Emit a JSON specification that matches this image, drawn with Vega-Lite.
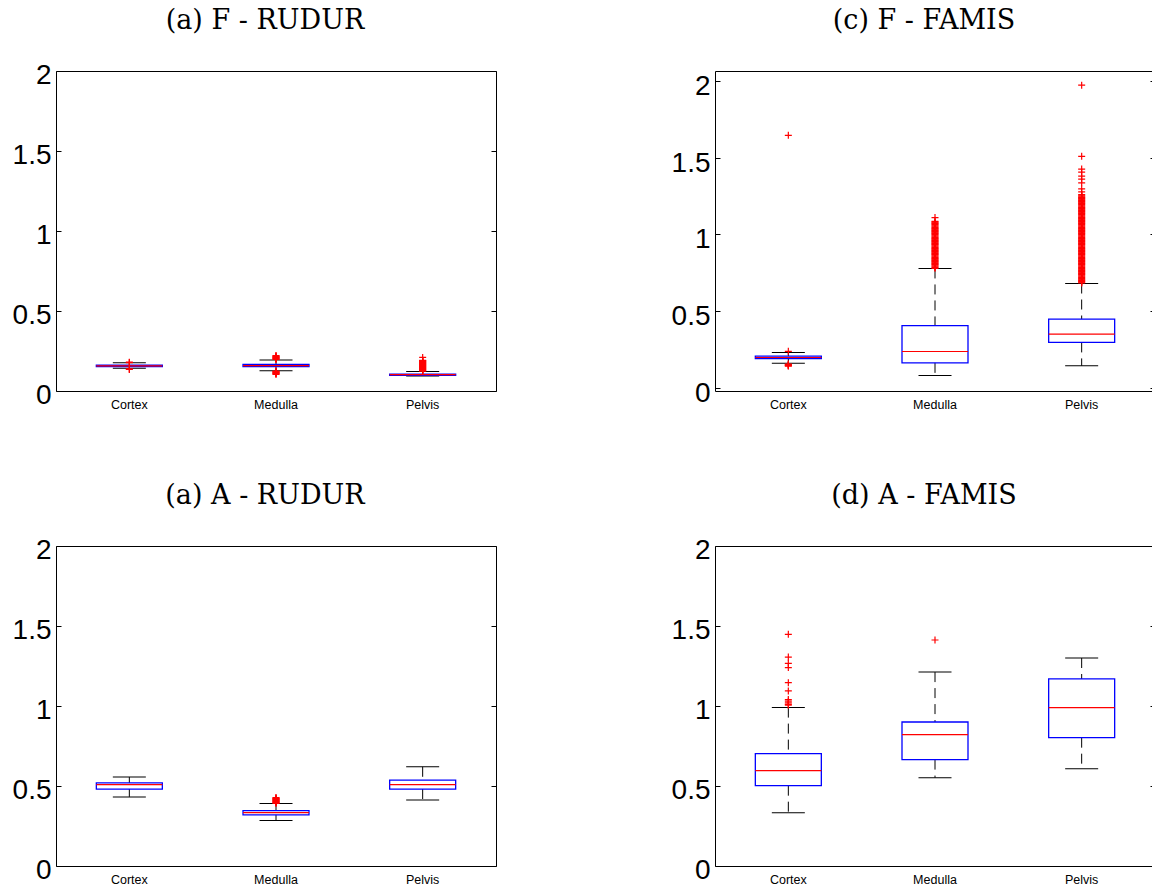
{
  "$schema": "https://vega.github.io/schema/vega-lite/v6.json",
  "background": "white",
  "padding": {"left": 11, "top": 6, "right": 0, "bottom": 0},
  "bounds": "flush",
  "columns": 2,
  "spacing": {"row": 155, "column": 219},
  "datasets": {
    "stats": [
      {"panel": "FR", "region": "Cortex", "lo": 0.142, "q1": 0.153, "med": 0.157, "q3": 0.161, "hi": 0.176},
      {"panel": "FR", "region": "Medulla", "lo": 0.127, "q1": 0.152, "med": 0.158, "q3": 0.166, "hi": 0.194},
      {"panel": "FR", "region": "Pelvis", "lo": 0.094, "q1": 0.098, "med": 0.102, "q3": 0.106, "hi": 0.122},
      {"panel": "FF", "region": "Cortex", "lo": 0.162, "q1": 0.193, "med": 0.2, "q3": 0.209, "hi": 0.232},
      {"panel": "FF", "region": "Medulla", "lo": 0.082, "q1": 0.165, "med": 0.239, "q3": 0.407, "hi": 0.779},
      {"panel": "FF", "region": "Pelvis", "lo": 0.146, "q1": 0.298, "med": 0.352, "q3": 0.45, "hi": 0.681},
      {"panel": "AR", "region": "Cortex", "lo": 0.432, "q1": 0.481, "med": 0.508, "q3": 0.519, "hi": 0.556},
      {"panel": "AR", "region": "Medulla", "lo": 0.284, "q1": 0.32, "med": 0.334, "q3": 0.346, "hi": 0.39},
      {"panel": "AR", "region": "Pelvis", "lo": 0.413, "q1": 0.481, "med": 0.508, "q3": 0.537, "hi": 0.62},
      {"panel": "AF", "region": "Cortex", "lo": 0.333, "q1": 0.502, "med": 0.596, "q3": 0.702, "hi": 0.99},
      {"panel": "AF", "region": "Medulla", "lo": 0.552, "q1": 0.665, "med": 0.821, "q3": 0.9, "hi": 1.212},
      {"panel": "AF", "region": "Pelvis", "lo": 0.608, "q1": 0.802, "med": 0.99, "q3": 1.169, "hi": 1.3}
    ],
    "outliers": [
      {"panel": "FR", "region": "Cortex", "value": 0.18}, {"panel": "FR", "region": "Cortex", "value": 0.177},
      {"panel": "FR", "region": "Cortex", "value": 0.138}, {"panel": "FR", "region": "Cortex", "value": 0.135},
      {"panel": "FR", "region": "Medulla", "value": 0.197}, {"panel": "FR", "region": "Medulla", "value": 0.2},
      {"panel": "FR", "region": "Medulla", "value": 0.203}, {"panel": "FR", "region": "Medulla", "value": 0.206},
      {"panel": "FR", "region": "Medulla", "value": 0.209}, {"panel": "FR", "region": "Medulla", "value": 0.212},
      {"panel": "FR", "region": "Medulla", "value": 0.215}, {"panel": "FR", "region": "Medulla", "value": 0.218},
      {"panel": "FR", "region": "Medulla", "value": 0.222}, {"panel": "FR", "region": "Medulla", "value": 0.125},
      {"panel": "FR", "region": "Medulla", "value": 0.122}, {"panel": "FR", "region": "Medulla", "value": 0.119},
      {"panel": "FR", "region": "Medulla", "value": 0.116}, {"panel": "FR", "region": "Medulla", "value": 0.113},
      {"panel": "FR", "region": "Medulla", "value": 0.11}, {"panel": "FR", "region": "Medulla", "value": 0.107},
      {"panel": "FR", "region": "Medulla", "value": 0.104},
      {"panel": "FR", "region": "Pelvis", "value": 0.124}, {"panel": "FR", "region": "Pelvis", "value": 0.127},
      {"panel": "FR", "region": "Pelvis", "value": 0.13}, {"panel": "FR", "region": "Pelvis", "value": 0.133},
      {"panel": "FR", "region": "Pelvis", "value": 0.136}, {"panel": "FR", "region": "Pelvis", "value": 0.139},
      {"panel": "FR", "region": "Pelvis", "value": 0.142}, {"panel": "FR", "region": "Pelvis", "value": 0.145},
      {"panel": "FR", "region": "Pelvis", "value": 0.148}, {"panel": "FR", "region": "Pelvis", "value": 0.151},
      {"panel": "FR", "region": "Pelvis", "value": 0.154}, {"panel": "FR", "region": "Pelvis", "value": 0.157},
      {"panel": "FR", "region": "Pelvis", "value": 0.16}, {"panel": "FR", "region": "Pelvis", "value": 0.163},
      {"panel": "FR", "region": "Pelvis", "value": 0.166}, {"panel": "FR", "region": "Pelvis", "value": 0.169},
      {"panel": "FR", "region": "Pelvis", "value": 0.172}, {"panel": "FR", "region": "Pelvis", "value": 0.175},
      {"panel": "FR", "region": "Pelvis", "value": 0.178}, {"panel": "FR", "region": "Pelvis", "value": 0.181},
      {"panel": "FR", "region": "Pelvis", "value": 0.184}, {"panel": "FR", "region": "Pelvis", "value": 0.187},
      {"panel": "FR", "region": "Pelvis", "value": 0.19}, {"panel": "FR", "region": "Pelvis", "value": 0.192},
      {"panel": "FR", "region": "Pelvis", "value": 0.21},
      {"panel": "FF", "region": "Cortex", "value": 0.24}, {"panel": "FF", "region": "Cortex", "value": 0.157},
      {"panel": "FF", "region": "Cortex", "value": 0.153}, {"panel": "FF", "region": "Cortex", "value": 0.15},
      {"panel": "FF", "region": "Cortex", "value": 0.147}, {"panel": "FF", "region": "Cortex", "value": 0.144},
      {"panel": "FF", "region": "Cortex", "value": 1.645},
      {"panel": "FF", "region": "Medulla", "value": 0.78}, {"panel": "FF", "region": "Medulla", "value": 0.785},
      {"panel": "FF", "region": "Medulla", "value": 0.79}, {"panel": "FF", "region": "Medulla", "value": 0.795},
      {"panel": "FF", "region": "Medulla", "value": 0.8}, {"panel": "FF", "region": "Medulla", "value": 0.805},
      {"panel": "FF", "region": "Medulla", "value": 0.81}, {"panel": "FF", "region": "Medulla", "value": 0.815},
      {"panel": "FF", "region": "Medulla", "value": 0.82}, {"panel": "FF", "region": "Medulla", "value": 0.825},
      {"panel": "FF", "region": "Medulla", "value": 0.83}, {"panel": "FF", "region": "Medulla", "value": 0.835},
      {"panel": "FF", "region": "Medulla", "value": 0.84}, {"panel": "FF", "region": "Medulla", "value": 0.845},
      {"panel": "FF", "region": "Medulla", "value": 0.85}, {"panel": "FF", "region": "Medulla", "value": 0.855},
      {"panel": "FF", "region": "Medulla", "value": 0.86}, {"panel": "FF", "region": "Medulla", "value": 0.865},
      {"panel": "FF", "region": "Medulla", "value": 0.87}, {"panel": "FF", "region": "Medulla", "value": 0.875},
      {"panel": "FF", "region": "Medulla", "value": 0.88}, {"panel": "FF", "region": "Medulla", "value": 0.885},
      {"panel": "FF", "region": "Medulla", "value": 0.89}, {"panel": "FF", "region": "Medulla", "value": 0.895},
      {"panel": "FF", "region": "Medulla", "value": 0.9}, {"panel": "FF", "region": "Medulla", "value": 0.905},
      {"panel": "FF", "region": "Medulla", "value": 0.91}, {"panel": "FF", "region": "Medulla", "value": 0.915},
      {"panel": "FF", "region": "Medulla", "value": 0.92}, {"panel": "FF", "region": "Medulla", "value": 0.925},
      {"panel": "FF", "region": "Medulla", "value": 0.93}, {"panel": "FF", "region": "Medulla", "value": 0.935},
      {"panel": "FF", "region": "Medulla", "value": 0.94}, {"panel": "FF", "region": "Medulla", "value": 0.945},
      {"panel": "FF", "region": "Medulla", "value": 0.95}, {"panel": "FF", "region": "Medulla", "value": 0.955},
      {"panel": "FF", "region": "Medulla", "value": 0.96}, {"panel": "FF", "region": "Medulla", "value": 0.965},
      {"panel": "FF", "region": "Medulla", "value": 0.97}, {"panel": "FF", "region": "Medulla", "value": 0.975},
      {"panel": "FF", "region": "Medulla", "value": 0.98}, {"panel": "FF", "region": "Medulla", "value": 0.985},
      {"panel": "FF", "region": "Medulla", "value": 0.99}, {"panel": "FF", "region": "Medulla", "value": 0.995},
      {"panel": "FF", "region": "Medulla", "value": 1.0}, {"panel": "FF", "region": "Medulla", "value": 1.005},
      {"panel": "FF", "region": "Medulla", "value": 1.01}, {"panel": "FF", "region": "Medulla", "value": 1.015},
      {"panel": "FF", "region": "Medulla", "value": 1.02}, {"panel": "FF", "region": "Medulla", "value": 1.025},
      {"panel": "FF", "region": "Medulla", "value": 1.03}, {"panel": "FF", "region": "Medulla", "value": 1.035},
      {"panel": "FF", "region": "Medulla", "value": 1.04}, {"panel": "FF", "region": "Medulla", "value": 1.045},
      {"panel": "FF", "region": "Medulla", "value": 1.05}, {"panel": "FF", "region": "Medulla", "value": 1.055},
      {"panel": "FF", "region": "Medulla", "value": 1.06}, {"panel": "FF", "region": "Medulla", "value": 1.065},
      {"panel": "FF", "region": "Medulla", "value": 1.07}, {"panel": "FF", "region": "Medulla", "value": 1.075},
      {"panel": "FF", "region": "Medulla", "value": 1.08}, {"panel": "FF", "region": "Medulla", "value": 1.085},
      {"panel": "FF", "region": "Medulla", "value": 1.11},
      {"panel": "FF", "region": "Pelvis", "value": 0.685}, {"panel": "FF", "region": "Pelvis", "value": 0.69},
      {"panel": "FF", "region": "Pelvis", "value": 0.695}, {"panel": "FF", "region": "Pelvis", "value": 0.7},
      {"panel": "FF", "region": "Pelvis", "value": 0.705}, {"panel": "FF", "region": "Pelvis", "value": 0.71},
      {"panel": "FF", "region": "Pelvis", "value": 0.715}, {"panel": "FF", "region": "Pelvis", "value": 0.72},
      {"panel": "FF", "region": "Pelvis", "value": 0.725}, {"panel": "FF", "region": "Pelvis", "value": 0.73},
      {"panel": "FF", "region": "Pelvis", "value": 0.735}, {"panel": "FF", "region": "Pelvis", "value": 0.74},
      {"panel": "FF", "region": "Pelvis", "value": 0.745}, {"panel": "FF", "region": "Pelvis", "value": 0.75},
      {"panel": "FF", "region": "Pelvis", "value": 0.755}, {"panel": "FF", "region": "Pelvis", "value": 0.76},
      {"panel": "FF", "region": "Pelvis", "value": 0.765}, {"panel": "FF", "region": "Pelvis", "value": 0.77},
      {"panel": "FF", "region": "Pelvis", "value": 0.775}, {"panel": "FF", "region": "Pelvis", "value": 0.78},
      {"panel": "FF", "region": "Pelvis", "value": 0.785}, {"panel": "FF", "region": "Pelvis", "value": 0.79},
      {"panel": "FF", "region": "Pelvis", "value": 0.795}, {"panel": "FF", "region": "Pelvis", "value": 0.8},
      {"panel": "FF", "region": "Pelvis", "value": 0.805}, {"panel": "FF", "region": "Pelvis", "value": 0.81},
      {"panel": "FF", "region": "Pelvis", "value": 0.815}, {"panel": "FF", "region": "Pelvis", "value": 0.82},
      {"panel": "FF", "region": "Pelvis", "value": 0.825}, {"panel": "FF", "region": "Pelvis", "value": 0.83},
      {"panel": "FF", "region": "Pelvis", "value": 0.835}, {"panel": "FF", "region": "Pelvis", "value": 0.84},
      {"panel": "FF", "region": "Pelvis", "value": 0.845}, {"panel": "FF", "region": "Pelvis", "value": 0.85},
      {"panel": "FF", "region": "Pelvis", "value": 0.855}, {"panel": "FF", "region": "Pelvis", "value": 0.86},
      {"panel": "FF", "region": "Pelvis", "value": 0.865}, {"panel": "FF", "region": "Pelvis", "value": 0.87},
      {"panel": "FF", "region": "Pelvis", "value": 0.875}, {"panel": "FF", "region": "Pelvis", "value": 0.88},
      {"panel": "FF", "region": "Pelvis", "value": 0.885}, {"panel": "FF", "region": "Pelvis", "value": 0.89},
      {"panel": "FF", "region": "Pelvis", "value": 0.895}, {"panel": "FF", "region": "Pelvis", "value": 0.9},
      {"panel": "FF", "region": "Pelvis", "value": 0.905}, {"panel": "FF", "region": "Pelvis", "value": 0.91},
      {"panel": "FF", "region": "Pelvis", "value": 0.915}, {"panel": "FF", "region": "Pelvis", "value": 0.92},
      {"panel": "FF", "region": "Pelvis", "value": 0.925}, {"panel": "FF", "region": "Pelvis", "value": 0.93},
      {"panel": "FF", "region": "Pelvis", "value": 0.935}, {"panel": "FF", "region": "Pelvis", "value": 0.94},
      {"panel": "FF", "region": "Pelvis", "value": 0.945}, {"panel": "FF", "region": "Pelvis", "value": 0.95},
      {"panel": "FF", "region": "Pelvis", "value": 0.955}, {"panel": "FF", "region": "Pelvis", "value": 0.96},
      {"panel": "FF", "region": "Pelvis", "value": 0.965}, {"panel": "FF", "region": "Pelvis", "value": 0.97},
      {"panel": "FF", "region": "Pelvis", "value": 0.975}, {"panel": "FF", "region": "Pelvis", "value": 0.98},
      {"panel": "FF", "region": "Pelvis", "value": 0.985}, {"panel": "FF", "region": "Pelvis", "value": 0.99},
      {"panel": "FF", "region": "Pelvis", "value": 0.995}, {"panel": "FF", "region": "Pelvis", "value": 1.0},
      {"panel": "FF", "region": "Pelvis", "value": 1.005}, {"panel": "FF", "region": "Pelvis", "value": 1.01},
      {"panel": "FF", "region": "Pelvis", "value": 1.015}, {"panel": "FF", "region": "Pelvis", "value": 1.02},
      {"panel": "FF", "region": "Pelvis", "value": 1.025}, {"panel": "FF", "region": "Pelvis", "value": 1.03},
      {"panel": "FF", "region": "Pelvis", "value": 1.035}, {"panel": "FF", "region": "Pelvis", "value": 1.04},
      {"panel": "FF", "region": "Pelvis", "value": 1.045}, {"panel": "FF", "region": "Pelvis", "value": 1.05},
      {"panel": "FF", "region": "Pelvis", "value": 1.055}, {"panel": "FF", "region": "Pelvis", "value": 1.06},
      {"panel": "FF", "region": "Pelvis", "value": 1.065}, {"panel": "FF", "region": "Pelvis", "value": 1.07},
      {"panel": "FF", "region": "Pelvis", "value": 1.075}, {"panel": "FF", "region": "Pelvis", "value": 1.08},
      {"panel": "FF", "region": "Pelvis", "value": 1.085}, {"panel": "FF", "region": "Pelvis", "value": 1.09},
      {"panel": "FF", "region": "Pelvis", "value": 1.095}, {"panel": "FF", "region": "Pelvis", "value": 1.1},
      {"panel": "FF", "region": "Pelvis", "value": 1.105}, {"panel": "FF", "region": "Pelvis", "value": 1.11},
      {"panel": "FF", "region": "Pelvis", "value": 1.115}, {"panel": "FF", "region": "Pelvis", "value": 1.12},
      {"panel": "FF", "region": "Pelvis", "value": 1.125}, {"panel": "FF", "region": "Pelvis", "value": 1.13},
      {"panel": "FF", "region": "Pelvis", "value": 1.135}, {"panel": "FF", "region": "Pelvis", "value": 1.14},
      {"panel": "FF", "region": "Pelvis", "value": 1.145}, {"panel": "FF", "region": "Pelvis", "value": 1.15},
      {"panel": "FF", "region": "Pelvis", "value": 1.155}, {"panel": "FF", "region": "Pelvis", "value": 1.16},
      {"panel": "FF", "region": "Pelvis", "value": 1.165}, {"panel": "FF", "region": "Pelvis", "value": 1.17},
      {"panel": "FF", "region": "Pelvis", "value": 1.175}, {"panel": "FF", "region": "Pelvis", "value": 1.18},
      {"panel": "FF", "region": "Pelvis", "value": 1.185}, {"panel": "FF", "region": "Pelvis", "value": 1.19},
      {"panel": "FF", "region": "Pelvis", "value": 1.195}, {"panel": "FF", "region": "Pelvis", "value": 1.2},
      {"panel": "FF", "region": "Pelvis", "value": 1.205}, {"panel": "FF", "region": "Pelvis", "value": 1.21},
      {"panel": "FF", "region": "Pelvis", "value": 1.215}, {"panel": "FF", "region": "Pelvis", "value": 1.22},
      {"panel": "FF", "region": "Pelvis", "value": 1.225}, {"panel": "FF", "region": "Pelvis", "value": 1.23},
      {"panel": "FF", "region": "Pelvis", "value": 1.235}, {"panel": "FF", "region": "Pelvis", "value": 1.24},
      {"panel": "FF", "region": "Pelvis", "value": 1.245}, {"panel": "FF", "region": "Pelvis", "value": 1.25},
      {"panel": "FF", "region": "Pelvis", "value": 1.255}, {"panel": "FF", "region": "Pelvis", "value": 1.26},
      {"panel": "FF", "region": "Pelvis", "value": 1.277}, {"panel": "FF", "region": "Pelvis", "value": 1.296},
      {"panel": "FF", "region": "Pelvis", "value": 1.336}, {"panel": "FF", "region": "Pelvis", "value": 1.36},
      {"panel": "FF", "region": "Pelvis", "value": 1.379}, {"panel": "FF", "region": "Pelvis", "value": 1.405},
      {"panel": "FF", "region": "Pelvis", "value": 1.425}, {"panel": "FF", "region": "Pelvis", "value": 1.508},
      {"panel": "FF", "region": "Pelvis", "value": 1.971},
      {"panel": "AR", "region": "Medulla", "value": 0.392}, {"panel": "AR", "region": "Medulla", "value": 0.395},
      {"panel": "AR", "region": "Medulla", "value": 0.398}, {"panel": "AR", "region": "Medulla", "value": 0.401},
      {"panel": "AR", "region": "Medulla", "value": 0.404}, {"panel": "AR", "region": "Medulla", "value": 0.407},
      {"panel": "AR", "region": "Medulla", "value": 0.41}, {"panel": "AR", "region": "Medulla", "value": 0.413},
      {"panel": "AR", "region": "Medulla", "value": 0.416}, {"panel": "AR", "region": "Medulla", "value": 0.419},
      {"panel": "AR", "region": "Medulla", "value": 0.422}, {"panel": "AR", "region": "Medulla", "value": 0.425},
      {"panel": "AR", "region": "Medulla", "value": 0.428},
      {"panel": "AF", "region": "Cortex", "value": 1.005}, {"panel": "AF", "region": "Cortex", "value": 1.01},
      {"panel": "AF", "region": "Cortex", "value": 1.02}, {"panel": "AF", "region": "Cortex", "value": 1.03},
      {"panel": "AF", "region": "Cortex", "value": 1.04}, {"panel": "AF", "region": "Cortex", "value": 1.094},
      {"panel": "AF", "region": "Cortex", "value": 1.146}, {"panel": "AF", "region": "Cortex", "value": 1.24},
      {"panel": "AF", "region": "Cortex", "value": 1.267}, {"panel": "AF", "region": "Cortex", "value": 1.306},
      {"panel": "AF", "region": "Cortex", "value": 1.448},
      {"panel": "AF", "region": "Medulla", "value": 1.4125}
    ]
  },
  "concat": [
    {
      "width": 440, "height": 320,
      "title": {"text": "(a) F - RUDUR", "dx": -11},
      "layer": [
        {"data": {"name": "stats"}, "transform": [{"filter": "datum.panel === 'FR'"}],
         "mark": {"type": "rule", "color": "#000", "strokeDash": [10, 6], "strokeWidth": 1},
         "encoding": {
           "x": {"field": "region", "type": "nominal", "scale": {"type": "band", "domain": ["Cortex", "Medulla", "Pelvis"], "paddingInner": 0, "paddingOuter": 0}, "axis": {"title": null}},
           "y": {"field": "hi", "type": "quantitative", "scale": {"domain": [0, 2], "nice": false, "zero": false},
                 "axis": {"orient": "left", "values": [0, 0.5, 1, 1.5, 2], "format": "~g", "title": null, "labelOffset": 4.5}},
           "y2": {"field": "q3"}
         }},
        {"data": {"name": "stats"}, "transform": [{"filter": "datum.panel === 'FR'"}],
         "mark": {"type": "rule", "color": "#000", "strokeDash": [10, 6], "strokeWidth": 1},
         "encoding": {
           "x": {"field": "region", "type": "nominal", "scale": {"type": "band", "domain": ["Cortex", "Medulla", "Pelvis"], "paddingInner": 0, "paddingOuter": 0}, "axis": {"title": null}},
           "y": {"field": "q1", "type": "quantitative", "scale": {"domain": [0, 2], "nice": false, "zero": false}, "axis": null},
           "y2": {"field": "lo"}
         }},
        {"data": {"name": "stats"}, "transform": [{"filter": "datum.panel === 'FR'"}, {"fold": ["lo", "hi"], "as": ["which", "cap"]}],
         "mark": {"type": "tick", "color": "#000", "size": 33, "thickness": 1, "opacity": 1},
         "encoding": {
           "x": {"field": "region", "type": "nominal", "scale": {"type": "band", "domain": ["Cortex", "Medulla", "Pelvis"], "paddingInner": 0, "paddingOuter": 0}, "axis": {"title": null}},
           "y": {"field": "cap", "type": "quantitative", "scale": {"domain": [0, 2], "nice": false, "zero": false}, "axis": null}
         }},
        {"data": {"name": "stats"}, "transform": [{"filter": "datum.panel === 'FR'"}],
         "mark": {"type": "bar", "width": {"band": 0.45}, "fill": "transparent", "stroke": "#0000ff", "strokeWidth": 1.3},
         "encoding": {
           "x": {"field": "region", "type": "nominal", "scale": {"type": "band", "domain": ["Cortex", "Medulla", "Pelvis"], "paddingInner": 0, "paddingOuter": 0}, "axis": {"title": null}},
           "y": {"field": "q1", "type": "quantitative", "scale": {"domain": [0, 2], "nice": false, "zero": false}, "axis": null},
           "y2": {"field": "q3"}
         }},
        {"data": {"name": "stats"}, "transform": [{"filter": "datum.panel === 'FR'"}],
         "mark": {"type": "tick", "color": "#ff0000", "size": 66, "thickness": 1.2, "opacity": 1},
         "encoding": {
           "x": {"field": "region", "type": "nominal", "scale": {"type": "band", "domain": ["Cortex", "Medulla", "Pelvis"], "paddingInner": 0, "paddingOuter": 0}, "axis": {"title": null}},
           "y": {"field": "med", "type": "quantitative", "scale": {"domain": [0, 2], "nice": false, "zero": false},
                 "axis": {"orient": "right", "values": [0, 0.5, 1, 1.5, 2], "labels": false, "title": null}}
         }},
        {"data": {"name": "outliers"}, "transform": [{"filter": "datum.panel === 'FR'"}],
         "mark": {"type": "point", "shape": "M-1,0H1M0,-1V1", "filled": false, "stroke": "#ff0000", "strokeWidth": 1.2, "size": 49, "opacity": 1},
         "encoding": {
           "x": {"field": "region", "type": "nominal", "scale": {"type": "band", "domain": ["Cortex", "Medulla", "Pelvis"], "paddingInner": 0, "paddingOuter": 0}, "axis": {"title": null}},
           "y": {"field": "value", "type": "quantitative", "scale": {"domain": [0, 2], "nice": false, "zero": false}, "axis": null}
         }}
      ]
    },
    {
      "width": 440, "height": 320,
      "title": {"text": "(c) F - FAMIS", "dx": -11, "offset": 36},
      "layer": [
        {"data": {"name": "stats"}, "transform": [{"filter": "datum.panel === 'FF'"}],
         "mark": {"type": "rule", "color": "#000", "strokeDash": [10, 6], "strokeWidth": 1},
         "encoding": {
           "x": {"field": "region", "type": "nominal", "scale": {"type": "band", "domain": ["Cortex", "Medulla", "Pelvis"], "paddingInner": 0, "paddingOuter": 0}, "axis": {"title": null}},
           "y": {"field": "hi", "type": "quantitative", "scale": {"domain": [-0.018, 2.063], "nice": false, "zero": false},
                 "axis": {"orient": "left", "values": [0, 0.5, 1, 1.5, 2], "format": "~g", "title": null, "labelOffset": 5.5}},
           "y2": {"field": "q3"}
         }},
        {"data": {"name": "stats"}, "transform": [{"filter": "datum.panel === 'FF'"}],
         "mark": {"type": "rule", "color": "#000", "strokeDash": [10, 6], "strokeWidth": 1},
         "encoding": {
           "x": {"field": "region", "type": "nominal", "scale": {"type": "band", "domain": ["Cortex", "Medulla", "Pelvis"], "paddingInner": 0, "paddingOuter": 0}, "axis": {"title": null}},
           "y": {"field": "q1", "type": "quantitative", "scale": {"domain": [-0.018, 2.063], "nice": false, "zero": false}, "axis": null},
           "y2": {"field": "lo"}
         }},
        {"data": {"name": "stats"}, "transform": [{"filter": "datum.panel === 'FF'"}, {"fold": ["lo", "hi"], "as": ["which", "cap"]}],
         "mark": {"type": "tick", "color": "#000", "size": 33, "thickness": 1, "opacity": 1},
         "encoding": {
           "x": {"field": "region", "type": "nominal", "scale": {"type": "band", "domain": ["Cortex", "Medulla", "Pelvis"], "paddingInner": 0, "paddingOuter": 0}, "axis": {"title": null}},
           "y": {"field": "cap", "type": "quantitative", "scale": {"domain": [-0.018, 2.063], "nice": false, "zero": false}, "axis": null}
         }},
        {"data": {"name": "stats"}, "transform": [{"filter": "datum.panel === 'FF'"}],
         "mark": {"type": "bar", "width": {"band": 0.45}, "fill": "transparent", "stroke": "#0000ff", "strokeWidth": 1.3},
         "encoding": {
           "x": {"field": "region", "type": "nominal", "scale": {"type": "band", "domain": ["Cortex", "Medulla", "Pelvis"], "paddingInner": 0, "paddingOuter": 0}, "axis": {"title": null}},
           "y": {"field": "q1", "type": "quantitative", "scale": {"domain": [-0.018, 2.063], "nice": false, "zero": false}, "axis": null},
           "y2": {"field": "q3"}
         }},
        {"data": {"name": "stats"}, "transform": [{"filter": "datum.panel === 'FF'"}],
         "mark": {"type": "tick", "color": "#ff0000", "size": 66, "thickness": 1.2, "opacity": 1},
         "encoding": {
           "x": {"field": "region", "type": "nominal", "scale": {"type": "band", "domain": ["Cortex", "Medulla", "Pelvis"], "paddingInner": 0, "paddingOuter": 0}, "axis": {"title": null}},
           "y": {"field": "med", "type": "quantitative", "scale": {"domain": [-0.018, 2.063], "nice": false, "zero": false},
                 "axis": {"orient": "right", "values": [0, 0.5, 1, 1.5, 2], "labels": false, "title": null}}
         }},
        {"data": {"name": "outliers"}, "transform": [{"filter": "datum.panel === 'FF'"}],
         "mark": {"type": "point", "shape": "M-1,0H1M0,-1V1", "filled": false, "stroke": "#ff0000", "strokeWidth": 1.2, "size": 49, "opacity": 1},
         "encoding": {
           "x": {"field": "region", "type": "nominal", "scale": {"type": "band", "domain": ["Cortex", "Medulla", "Pelvis"], "paddingInner": 0, "paddingOuter": 0}, "axis": {"title": null}},
           "y": {"field": "value", "type": "quantitative", "scale": {"domain": [-0.018, 2.063], "nice": false, "zero": false}, "axis": null}
         }}
      ]
    },
    {
      "width": 440, "height": 320,
      "title": {"text": "(a) A - RUDUR", "dx": -11},
      "layer": [
        {"data": {"name": "stats"}, "transform": [{"filter": "datum.panel === 'AR'"}],
         "mark": {"type": "rule", "color": "#000", "strokeDash": [10, 6], "strokeWidth": 1},
         "encoding": {
           "x": {"field": "region", "type": "nominal", "scale": {"type": "band", "domain": ["Cortex", "Medulla", "Pelvis"], "paddingInner": 0, "paddingOuter": 0}, "axis": {"title": null}},
           "y": {"field": "hi", "type": "quantitative", "scale": {"domain": [0, 2], "nice": false, "zero": false},
                 "axis": {"orient": "left", "values": [0, 0.5, 1, 1.5, 2], "format": "~g", "title": null, "labelOffset": 4.5}},
           "y2": {"field": "q3"}
         }},
        {"data": {"name": "stats"}, "transform": [{"filter": "datum.panel === 'AR'"}],
         "mark": {"type": "rule", "color": "#000", "strokeDash": [10, 6], "strokeWidth": 1},
         "encoding": {
           "x": {"field": "region", "type": "nominal", "scale": {"type": "band", "domain": ["Cortex", "Medulla", "Pelvis"], "paddingInner": 0, "paddingOuter": 0}, "axis": {"title": null}},
           "y": {"field": "q1", "type": "quantitative", "scale": {"domain": [0, 2], "nice": false, "zero": false}, "axis": null},
           "y2": {"field": "lo"}
         }},
        {"data": {"name": "stats"}, "transform": [{"filter": "datum.panel === 'AR'"}, {"fold": ["lo", "hi"], "as": ["which", "cap"]}],
         "mark": {"type": "tick", "color": "#000", "size": 33, "thickness": 1, "opacity": 1},
         "encoding": {
           "x": {"field": "region", "type": "nominal", "scale": {"type": "band", "domain": ["Cortex", "Medulla", "Pelvis"], "paddingInner": 0, "paddingOuter": 0}, "axis": {"title": null}},
           "y": {"field": "cap", "type": "quantitative", "scale": {"domain": [0, 2], "nice": false, "zero": false}, "axis": null}
         }},
        {"data": {"name": "stats"}, "transform": [{"filter": "datum.panel === 'AR'"}],
         "mark": {"type": "bar", "width": {"band": 0.45}, "fill": "transparent", "stroke": "#0000ff", "strokeWidth": 1.3},
         "encoding": {
           "x": {"field": "region", "type": "nominal", "scale": {"type": "band", "domain": ["Cortex", "Medulla", "Pelvis"], "paddingInner": 0, "paddingOuter": 0}, "axis": {"title": null}},
           "y": {"field": "q1", "type": "quantitative", "scale": {"domain": [0, 2], "nice": false, "zero": false}, "axis": null},
           "y2": {"field": "q3"}
         }},
        {"data": {"name": "stats"}, "transform": [{"filter": "datum.panel === 'AR'"}],
         "mark": {"type": "tick", "color": "#ff0000", "size": 66, "thickness": 1.2, "opacity": 1},
         "encoding": {
           "x": {"field": "region", "type": "nominal", "scale": {"type": "band", "domain": ["Cortex", "Medulla", "Pelvis"], "paddingInner": 0, "paddingOuter": 0}, "axis": {"title": null}},
           "y": {"field": "med", "type": "quantitative", "scale": {"domain": [0, 2], "nice": false, "zero": false},
                 "axis": {"orient": "right", "values": [0, 0.5, 1, 1.5, 2], "labels": false, "title": null}}
         }},
        {"data": {"name": "outliers"}, "transform": [{"filter": "datum.panel === 'AR'"}],
         "mark": {"type": "point", "shape": "M-1,0H1M0,-1V1", "filled": false, "stroke": "#ff0000", "strokeWidth": 1.2, "size": 49, "opacity": 1},
         "encoding": {
           "x": {"field": "region", "type": "nominal", "scale": {"type": "band", "domain": ["Cortex", "Medulla", "Pelvis"], "paddingInner": 0, "paddingOuter": 0}, "axis": {"title": null}},
           "y": {"field": "value", "type": "quantitative", "scale": {"domain": [0, 2], "nice": false, "zero": false}, "axis": null}
         }}
      ]
    },
    {
      "width": 440, "height": 320,
      "title": {"text": "(d) A - FAMIS", "dx": -11},
      "layer": [
        {"data": {"name": "stats"}, "transform": [{"filter": "datum.panel === 'AF'"}],
         "mark": {"type": "rule", "color": "#000", "strokeDash": [10, 6], "strokeWidth": 1},
         "encoding": {
           "x": {"field": "region", "type": "nominal", "scale": {"type": "band", "domain": ["Cortex", "Medulla", "Pelvis"], "paddingInner": 0, "paddingOuter": 0}, "axis": {"title": null}},
           "y": {"field": "hi", "type": "quantitative", "scale": {"domain": [0, 2], "nice": false, "zero": false},
                 "axis": {"orient": "left", "values": [0, 0.5, 1, 1.5, 2], "format": "~g", "title": null, "labelOffset": 4.5}},
           "y2": {"field": "q3"}
         }},
        {"data": {"name": "stats"}, "transform": [{"filter": "datum.panel === 'AF'"}],
         "mark": {"type": "rule", "color": "#000", "strokeDash": [10, 6], "strokeWidth": 1},
         "encoding": {
           "x": {"field": "region", "type": "nominal", "scale": {"type": "band", "domain": ["Cortex", "Medulla", "Pelvis"], "paddingInner": 0, "paddingOuter": 0}, "axis": {"title": null}},
           "y": {"field": "q1", "type": "quantitative", "scale": {"domain": [0, 2], "nice": false, "zero": false}, "axis": null},
           "y2": {"field": "lo"}
         }},
        {"data": {"name": "stats"}, "transform": [{"filter": "datum.panel === 'AF'"}, {"fold": ["lo", "hi"], "as": ["which", "cap"]}],
         "mark": {"type": "tick", "color": "#000", "size": 33, "thickness": 1, "opacity": 1},
         "encoding": {
           "x": {"field": "region", "type": "nominal", "scale": {"type": "band", "domain": ["Cortex", "Medulla", "Pelvis"], "paddingInner": 0, "paddingOuter": 0}, "axis": {"title": null}},
           "y": {"field": "cap", "type": "quantitative", "scale": {"domain": [0, 2], "nice": false, "zero": false}, "axis": null}
         }},
        {"data": {"name": "stats"}, "transform": [{"filter": "datum.panel === 'AF'"}],
         "mark": {"type": "bar", "width": {"band": 0.45}, "fill": "transparent", "stroke": "#0000ff", "strokeWidth": 1.3},
         "encoding": {
           "x": {"field": "region", "type": "nominal", "scale": {"type": "band", "domain": ["Cortex", "Medulla", "Pelvis"], "paddingInner": 0, "paddingOuter": 0}, "axis": {"title": null}},
           "y": {"field": "q1", "type": "quantitative", "scale": {"domain": [0, 2], "nice": false, "zero": false}, "axis": null},
           "y2": {"field": "q3"}
         }},
        {"data": {"name": "stats"}, "transform": [{"filter": "datum.panel === 'AF'"}],
         "mark": {"type": "tick", "color": "#ff0000", "size": 66, "thickness": 1.2, "opacity": 1},
         "encoding": {
           "x": {"field": "region", "type": "nominal", "scale": {"type": "band", "domain": ["Cortex", "Medulla", "Pelvis"], "paddingInner": 0, "paddingOuter": 0}, "axis": {"title": null}},
           "y": {"field": "med", "type": "quantitative", "scale": {"domain": [0, 2], "nice": false, "zero": false},
                 "axis": {"orient": "right", "values": [0, 0.5, 1, 1.5, 2], "labels": false, "title": null}}
         }},
        {"data": {"name": "outliers"}, "transform": [{"filter": "datum.panel === 'AF'"}],
         "mark": {"type": "point", "shape": "M-1,0H1M0,-1V1", "filled": false, "stroke": "#ff0000", "strokeWidth": 1.2, "size": 49, "opacity": 1},
         "encoding": {
           "x": {"field": "region", "type": "nominal", "scale": {"type": "band", "domain": ["Cortex", "Medulla", "Pelvis"], "paddingInner": 0, "paddingOuter": 0}, "axis": {"title": null}},
           "y": {"field": "value", "type": "quantitative", "scale": {"domain": [0, 2], "nice": false, "zero": false}, "axis": null}
         }}
      ]
    }
  ],
  "config": {
    "view": {"stroke": "#000", "strokeWidth": 1},
    "title": {"font": "DejaVu Serif", "fontSize": 27, "fontWeight": "normal", "color": "#000", "anchor": "middle", "baseline": "alphabetic", "offset": 26.5},
    "axis": {"grid": false, "domain": false},
    "axisX": {"ticks": false, "labelAngle": 0, "labelFont": "Liberation Sans", "labelFontSize": 12.5, "labelColor": "#000", "labelPadding": 13, "labelBaseline": "middle"},
    "axisY": {"ticks": true, "tickSize": -5, "tickColor": "#000", "labelPadding": 10, "labelFont": "Liberation Sans", "labelFontSize": 28, "labelColor": "#000", "labelBaseline": "middle", "labelFlush": false, "labelOverlap": false}
  }
}
